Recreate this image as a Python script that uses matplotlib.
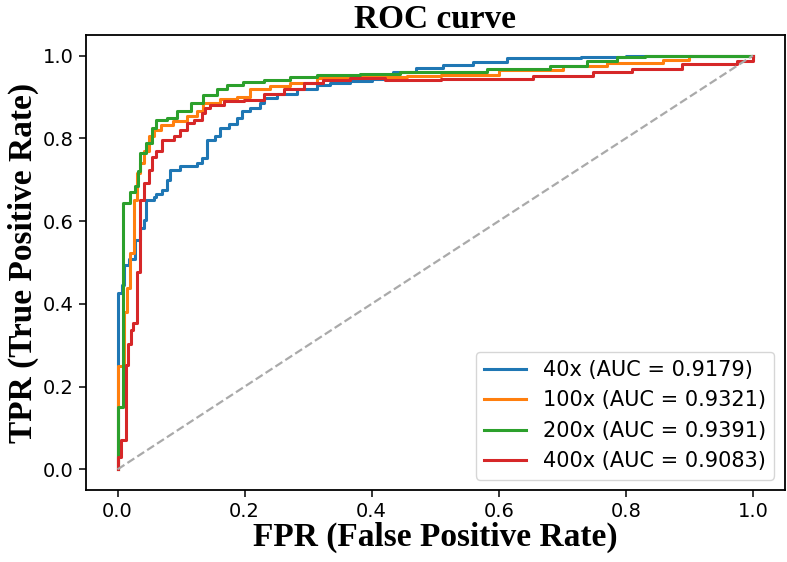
import matplotlib
matplotlib.use('Agg')
import matplotlib.pyplot as plt

# ROC points (fpr, tpr), corner points of the stairs
fpr_40 = [0.0, 0.0, 0.007, 0.010, 0.018, 0.028, 0.035, 0.041, 0.045, 0.057, 0.060, 0.070,
          0.078, 0.083, 0.099, 0.125, 0.133, 0.141, 0.154, 0.162, 0.175, 0.188, 0.196,
          0.209, 0.225, 0.230, 0.251, 0.283, 0.314, 0.335, 0.366, 0.400, 0.433, 0.470,
          0.512, 0.560, 0.613, 0.730, 0.800, 1.0]
tpr_40 = [0.0, 0.425, 0.445, 0.494, 0.508, 0.554, 0.583, 0.603, 0.651, 0.659, 0.665, 0.675,
          0.700, 0.724, 0.732, 0.740, 0.752, 0.796, 0.805, 0.825, 0.835, 0.850, 0.865,
          0.873, 0.886, 0.898, 0.906, 0.918, 0.930, 0.934, 0.938, 0.944, 0.961, 0.970,
          0.978, 0.985, 0.993, 0.997, 1.0, 1.0]

fpr_100 = [0.0, 0.0, 0.010, 0.015, 0.020, 0.026, 0.030, 0.036, 0.042, 0.049, 0.057, 0.068,
           0.088, 0.110, 0.125, 0.135, 0.162, 0.188, 0.209, 0.240, 0.272, 0.314, 0.366,
           0.456, 0.509, 0.600, 0.701, 0.770, 0.858, 0.900, 1.0]
tpr_100 = [0.0, 0.250, 0.381, 0.438, 0.523, 0.651, 0.716, 0.740, 0.770, 0.805, 0.821, 0.833,
           0.841, 0.853, 0.865, 0.886, 0.894, 0.901, 0.918, 0.926, 0.934, 0.946, 0.948,
           0.950, 0.954, 0.965, 0.975, 0.981, 0.990, 1.0, 1.0]

fpr_200 = [0.0, 0.0, 0.008, 0.019, 0.028, 0.032, 0.036, 0.044, 0.054, 0.060, 0.078, 0.094,
           0.115, 0.135, 0.157, 0.172, 0.198, 0.230, 0.272, 0.314, 0.382, 0.445, 0.581,
           0.681, 0.739, 0.786, 0.830, 1.0]
tpr_200 = [0.0, 0.151, 0.643, 0.671, 0.684, 0.720, 0.765, 0.789, 0.826, 0.845, 0.849, 0.865,
           0.886, 0.905, 0.918, 0.930, 0.935, 0.942, 0.949, 0.952, 0.956, 0.960, 0.968,
           0.974, 0.988, 0.996, 1.0, 1.0]

fpr_400 = [0.0, 0.0, 0.005, 0.013, 0.016, 0.021, 0.024, 0.031, 0.036, 0.041, 0.049, 0.055,
           0.060, 0.070, 0.089, 0.099, 0.110, 0.120, 0.133, 0.138, 0.146, 0.167, 0.199,
           0.230, 0.262, 0.293, 0.324, 0.366, 0.421, 0.509, 0.654, 0.748, 0.810, 0.888,
           0.975, 1.0]
tpr_400 = [0.0, 0.030, 0.070, 0.252, 0.304, 0.337, 0.353, 0.478, 0.651, 0.692, 0.724, 0.756,
           0.770, 0.797, 0.805, 0.821, 0.837, 0.845, 0.861, 0.873, 0.881, 0.889, 0.893,
           0.906, 0.918, 0.934, 0.942, 0.946, 0.940, 0.943, 0.950, 0.961, 0.968, 0.980,
           0.988, 1.0]

labels = ['40x (AUC = 0.9179)', '100x (AUC = 0.9321)', '200x (AUC = 0.9391)', '400x (AUC = 0.9083)']
colors = ['#1f77b4', '#ff7f0e', '#2ca02c', '#d62728']
curves = [(fpr_40, tpr_40), (fpr_100, tpr_100), (fpr_200, tpr_200), (fpr_400, tpr_400)]

fig = plt.figure(figsize=(7.87, 5.62), dpi=100)
ax = fig.add_axes([0.109, 0.128, 0.888, 0.81])

for (fx, ty), lab, c in zip(curves, labels, colors):
    ax.plot(fx, ty, drawstyle='steps-post', color=c, lw=2.2, label=lab)
ax.plot([0, 1], [0, 1], '--', color='#aaaaaa', lw=1.6)

serif_bold = dict(fontfamily='Liberation Serif', fontweight='bold', fontsize=24)
ax.set_title('ROC curve', pad=5, **serif_bold)
ax.set_xlabel('FPR (False Positive Rate)', labelpad=1, **serif_bold)
ax.set_ylabel('TPR (True Positive Rate)', labelpad=3, **serif_bold)
ax.tick_params(labelsize=14, length=5, width=1.1)
for s in ax.spines.values():
    s.set_linewidth(1.3)
ax.legend(loc='lower right', fontsize=15)

fig.savefig('out.png', dpi=100)
